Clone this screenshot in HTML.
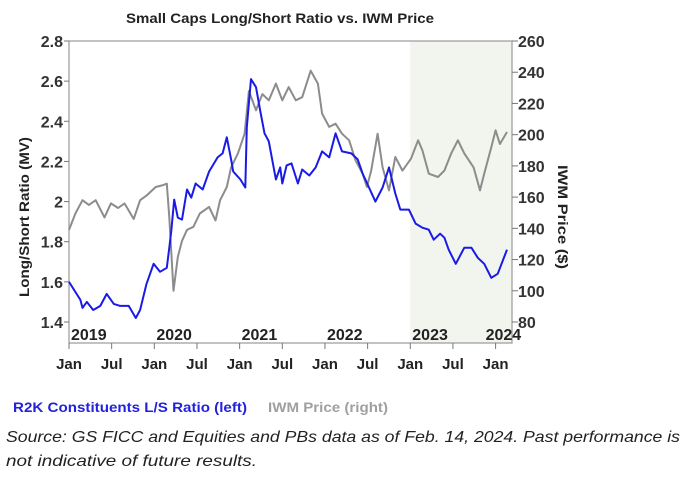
<!DOCTYPE html>
<html><head><meta charset="utf-8"><style>
html,body{margin:0;padding:0;background:#fff;}
svg{display:block;font-family:"Liberation Sans",sans-serif;}
</style></head><body>
<svg id="c" width="690" height="479" viewBox="0 0 690 479">
<rect x="0" y="0" width="690" height="479" fill="#fff"/>
<text x="280" y="23" text-anchor="middle" font-size="14" font-weight="bold" fill="#222" textLength="308" lengthAdjust="spacingAndGlyphs">Small Caps Long/Short Ratio vs. IWM Price</text>
<g id="plot"></g>
<text transform="translate(29,217) rotate(-90)" text-anchor="middle" font-size="14" font-weight="bold" fill="#222" textLength="160" lengthAdjust="spacingAndGlyphs">Long/Short Ratio (MV)</text>
<text transform="translate(558,217) rotate(90)" text-anchor="middle" font-size="14" font-weight="bold" fill="#222" textLength="104" lengthAdjust="spacingAndGlyphs">IWM Price ($)</text>
<text x="13" y="412" font-size="14" font-weight="bold" fill="#2222dd" textLength="234" lengthAdjust="spacingAndGlyphs">R2K Constituents L/S Ratio (left)</text>
<text x="268" y="412" font-size="14" font-weight="bold" fill="#a0a0a0" textLength="120" lengthAdjust="spacingAndGlyphs">IWM Price (right)</text>
<text x="6" y="442" font-size="16" font-style="italic" fill="#222" textLength="674" lengthAdjust="spacingAndGlyphs">Source: GS FICC and Equities and PBs data as of Feb. 14, 2024. Past performance is</text>
<text x="6" y="466" font-size="16" font-style="italic" fill="#222" textLength="251" lengthAdjust="spacingAndGlyphs">not indicative of future results.</text>
</svg>
<script>
const leftTicks=[1.4,1.6,1.8,2,2.2,2.4,2.6,2.8];
const leftTickLabels=["1.4","1.6","1.8","2","2.2","2.4","2.6","2.8"];
const rightTicks=[80,100,120,140,160,180,200,220,240,260];
const monthTicks=[0,6,12,18,24,30,36,42,48,54,60];
const monthLabels=["Jan","Jul","Jan","Jul","Jan","Jul","Jan","Jul","Jan","Jul","Jan"];
const yearLabels=["2019","2020","2021","2022","2023","2024"];
const lsMonths=[0,1.6,1.9,2.5,3.4,4.4,5.3,6.3,7.2,8.4,9.4,10,10.9,11.9,12.8,13.75,14.1,14.4,14.8,15.3,15.9,16.6,17.2,17.8,18.8,19.7,20.9,21.6,22.2,22.8,23.1,24.1,24.8,25,25.6,26.3,26.9,27.5,28.1,29.1,29.7,30,30.6,31.3,32.2,32.8,33.8,34.7,35.6,36.6,37.5,38.4,39.7,40.6,41.3,42.2,43.1,44.1,45,45.9,46.6,47.8,48.75,49.7,50.6,51.3,52.2,52.8,53.4,54.4,55.6,56.6,57.5,58.4,59.4,60.3,61.6];
const lsValues=[1.60,1.51,1.47,1.50,1.46,1.48,1.54,1.49,1.48,1.48,1.42,1.46,1.59,1.69,1.65,1.67,1.77,1.86,2.01,1.92,1.91,2.06,2.02,2.09,2.06,2.15,2.22,2.24,2.32,2.21,2.15,2.11,2.07,2.37,2.61,2.57,2.45,2.34,2.30,2.11,2.17,2.09,2.18,2.19,2.09,2.16,2.13,2.17,2.25,2.22,2.34,2.25,2.24,2.21,2.14,2.07,2.00,2.07,2.17,2.04,1.96,1.96,1.89,1.87,1.86,1.81,1.84,1.82,1.76,1.69,1.77,1.77,1.72,1.69,1.62,1.64,1.76];
const iwmMonths=[0,0.9,1.9,2.8,3.75,5,5.9,6.9,7.8,9.1,10,10.9,12.2,13.1,13.75,14.1,14.7,15.3,15.9,16.6,17.5,18.4,19.7,20.6,21.25,22.2,22.8,23.75,24.7,25.3,26.3,27.2,28.1,29.1,30,30.9,31.9,32.8,34,35,35.6,36.6,37.5,38.4,39.4,40.3,41.3,41.9,42.5,43.4,44.1,45,45.9,46.9,48.1,49.1,49.7,50.6,51.9,52.8,53.75,54.7,55.6,56.9,57.8,58.4,59.4,60,60.6,61.6];
const iwmValues=[139,149.5,158,155,158,147,156,153,156,146,158,161,166.5,167.5,168.6,147,100,121.6,132,139,141,149.5,153.7,145,158,166.5,179,188,200.6,228,215.6,226,222,232.7,222,230.5,222,224,241,232.7,213.5,205,207,200.6,196.4,183.6,175,166.5,177,200.6,179,164.3,185.7,177,184.6,196.4,189.9,175,172.9,177,188,196.4,188,179,164.3,175,192,202.8,194,201.7];

const NS="http://www.w3.org/2000/svg";
const g=document.getElementById('plot');
const X0=69,X1=512,Y0=41,Y1=322,PB=343;
const xS=m=>X0+(m/60)*(495.6-X0);
const yL=v=>Y1-(v-1.4)/(2.8-1.4)*(Y1-Y0);
const yR=v=>Y1-(v-80)/(260-80)*(Y1-Y0);
function mk(t,a){const e=document.createElementNS(NS,t);for(const k in a)e.setAttribute(k,a[k]);g.appendChild(e);return e;}
let e;
e=mk('rect',{x:xS(48),y:Y0,width:X1-xS(48),height:PB-Y0,fill:'#f1f5ee'});


e=mk('rect',{x:X0,y:Y0,width:X1-X0,height:PB-Y0,fill:'none',stroke:'#999','stroke-width':1.2});


leftTicks.forEach((v,i)=>{
 const y=yL(v);
 e=mk('line',{x1:X0-5,x2:X0,y1:y,y2:y,stroke:'#777'});
 
 
 e=mk('text',{x:X0-6,y:y+6,'text-anchor':'end','font-size':16,'font-weight':'bold',fill:'#333'});
 e.textContent=leftTickLabels[i];
 
 
});
rightTicks.forEach(v=>{
 const y=yR(v);
 e=mk('line',{x1:X1,x2:X1+6,y1:y,y2:y,stroke:'#777'});
 
 
 e=mk('text',{x:X1+6,y:y+6,'font-size':16,'font-weight':'bold',fill:'#333'});
 e.textContent=String(v);
 
 
});
monthTicks.forEach((m,i)=>{
 const x=xS(m);
 e=mk('line',{x1:x,x2:x,y1:PB,y2:PB+6,stroke:'#777'});
 
 
 e=mk('text',{x:x,y:369,'text-anchor':'middle','font-size':15,'font-weight':'bold',fill:'#222'});
 e.textContent=monthLabels[i];
 
 
});
yearLabels.forEach((t,i)=>{
 e=mk('text',{x:xS(i*12)+(i==5?-10:2),y:340,'font-size':16,'font-weight':'bold',fill:'#222'});
 e.textContent=t;
 
 
});
e=mk('polyline',{points:iwmMonths.map((m,i)=>xS(m).toFixed(1)+','+yR(iwmValues[i]).toFixed(1)).join(' '),fill:'none',stroke:'#8c8c8c','stroke-width':2,'stroke-linejoin':'round'});


e=mk('polyline',{points:lsMonths.map((m,i)=>xS(m).toFixed(1)+','+yL(lsValues[i]).toFixed(1)).join(' '),fill:'none',stroke:'#1a1ae6','stroke-width':2,'stroke-linejoin':'round'});


</script>
</body></html>
